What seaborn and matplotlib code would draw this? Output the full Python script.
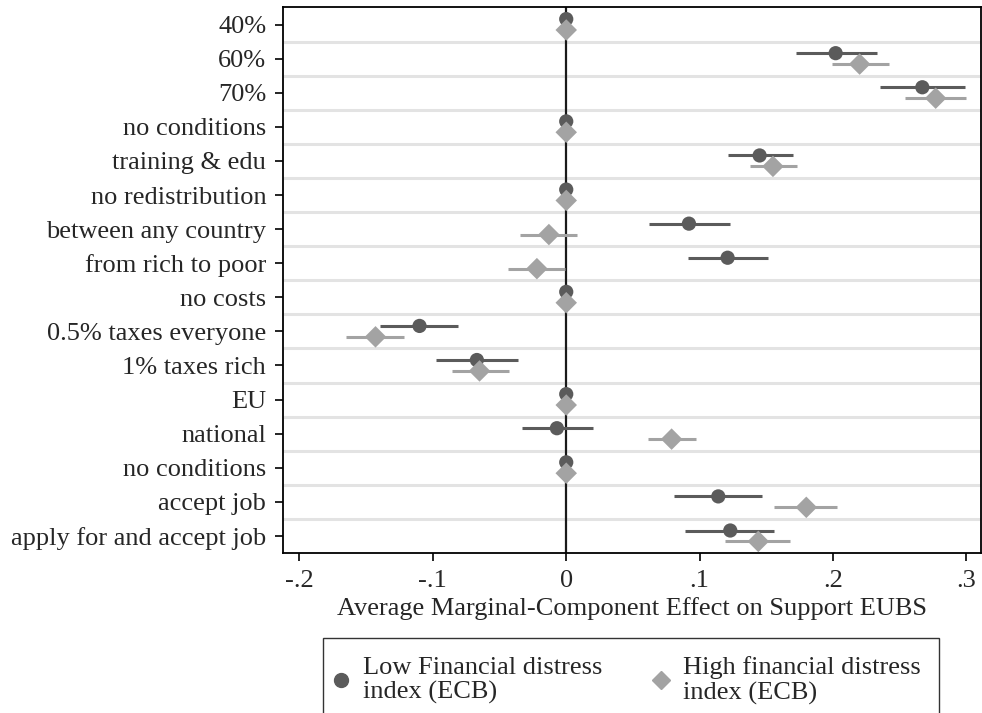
import numpy as np
import pandas as pd
import matplotlib
matplotlib.use("Agg")
import matplotlib.pyplot as plt
from matplotlib.lines import Line2D
import seaborn as sns

labels = ["40%", "60%", "70%", "no conditions", "training & edu", "no redistribution",
          "between any country", "from rich to poor", "no costs", "0.5% taxes everyone",
          "1% taxes rich", "EU", "national", "no conditions", "accept job",
          "apply for and accept job"]

low_est = [0, 0.202, 0.267, 0, 0.145, 0, 0.092, 0.121, 0, -0.110, -0.067, 0, -0.007, 0, 0.114, 0.123]
low_lo  = [0, 0.172, 0.235, 0, 0.121, 0, 0.062, 0.091, 0, -0.140, -0.098, 0, -0.033, 0, 0.081, 0.089]
low_hi  = [0, 0.233, 0.299, 0, 0.170, 0, 0.123, 0.151, 0, -0.081, -0.036, 0, 0.020, 0, 0.147, 0.156]

high_est = [0, 0.220, 0.277, 0, 0.155, 0, -0.013, -0.022, 0, -0.143, -0.065, 0, 0.079, 0, 0.180, 0.144]
high_lo  = [0, 0.199, 0.254, 0, 0.138, 0, -0.035, -0.044, 0, -0.165, -0.086, 0, 0.061, 0, 0.156, 0.119]
high_hi  = [0, 0.242, 0.300, 0, 0.173, 0, 0.008, -0.001, 0, -0.122, -0.043, 0, 0.097, 0, 0.203, 0.168]

series_names = ["Low Financial distress\nindex (ECB)", "High financial distress\nindex (ECB)"]

c_low = "#5b5b5b"
c_high = "#a3a3a3"

sns.set_theme(style="white")
plt.rcParams['font.family'] = ['Liberation Serif', 'DejaVu Serif']

FS = 19

n = len(labels)
rows = np.arange(1, n + 1)
off = 0.16
df = pd.DataFrame({
    "row": np.concatenate([rows - off, rows + off]),
    "est": low_est + high_est,
    "lo": low_lo + high_lo,
    "hi": low_hi + high_hi,
    "group": ["low"] * n + ["high"] * n,
})

fig = plt.figure(figsize=(9.82, 7.13), dpi=100)
ax = fig.add_axes([0.288, 0.2244, 0.711, 0.7651])

# gridlines between rows
for b in np.arange(1.5, n, 1):
    ax.axhline(b, color="#e3e3e3", lw=2.2, zorder=0)
ax.axvline(0, color="#1a1a1a", lw=1.6, zorder=1)

for g, col in [("low", c_low), ("high", c_high)]:
    sub = df[df.group == g]
    nz = sub[(sub.hi - sub.lo) > 0]
    ax.hlines(nz.row, nz.lo, nz.hi, color=col, lw=2.2, zorder=2)

sns.scatterplot(data=df[df.group == "low"], x="est", y="row", marker="o", s=105,
                color=c_low, edgecolor="none", ax=ax, zorder=3, legend=False)
sns.scatterplot(data=df[df.group == "high"], x="est", y="row", marker="D", s=120,
                color=c_high, edgecolor="none", ax=ax, zorder=4, legend=False)

ax.set_xlim(-0.2125, 0.311)
ax.set_ylim(n + 0.5, 0.5)
ax.set_yticks(rows)
ax.set_yticklabels(labels, fontsize=FS)
xt = [-0.2, -0.1, 0, 0.1, 0.2, 0.3]
ax.set_xticks(xt)
ax.set_xticklabels(["-.2", "-.1", "0", ".1", ".2", ".3"], fontsize=FS)
ax.set_xlabel("Average Marginal-Component Effect on Support EUBS", fontsize=FS, labelpad=4)
ax.set_ylabel("")
ax.tick_params(axis="y", direction="out", length=6, width=1.2, color="black",
               left=True, pad=6)
ax.tick_params(axis="x", direction="out", length=6, width=1.2, color="black",
               bottom=True, pad=6)
for s in ["left", "bottom", "top", "right"]:
    ax.spines[s].set_color("black")
    ax.spines[s].set_linewidth(1.3)

handles = [Line2D([], [], marker="o", ls="none", color=c_low, markersize=10),
           Line2D([], [], marker="D", ls="none", color=c_high, markersize=9)]
leg = fig.legend(handles, series_names, loc="upper left", bbox_to_anchor=(0.3289, 0.1052),
                 borderaxespad=0, ncol=2, frameon=True, fancybox=False, edgecolor="black",
                 fontsize=FS, handletextpad=0.83, columnspacing=2.2, borderpad=0.7,
                 handlelength=0)
leg.get_frame().set_linewidth(1.0)
for t in leg.get_texts():
    t.set_linespacing(1.12)

fig.savefig("out.png", dpi=100, facecolor="white")
